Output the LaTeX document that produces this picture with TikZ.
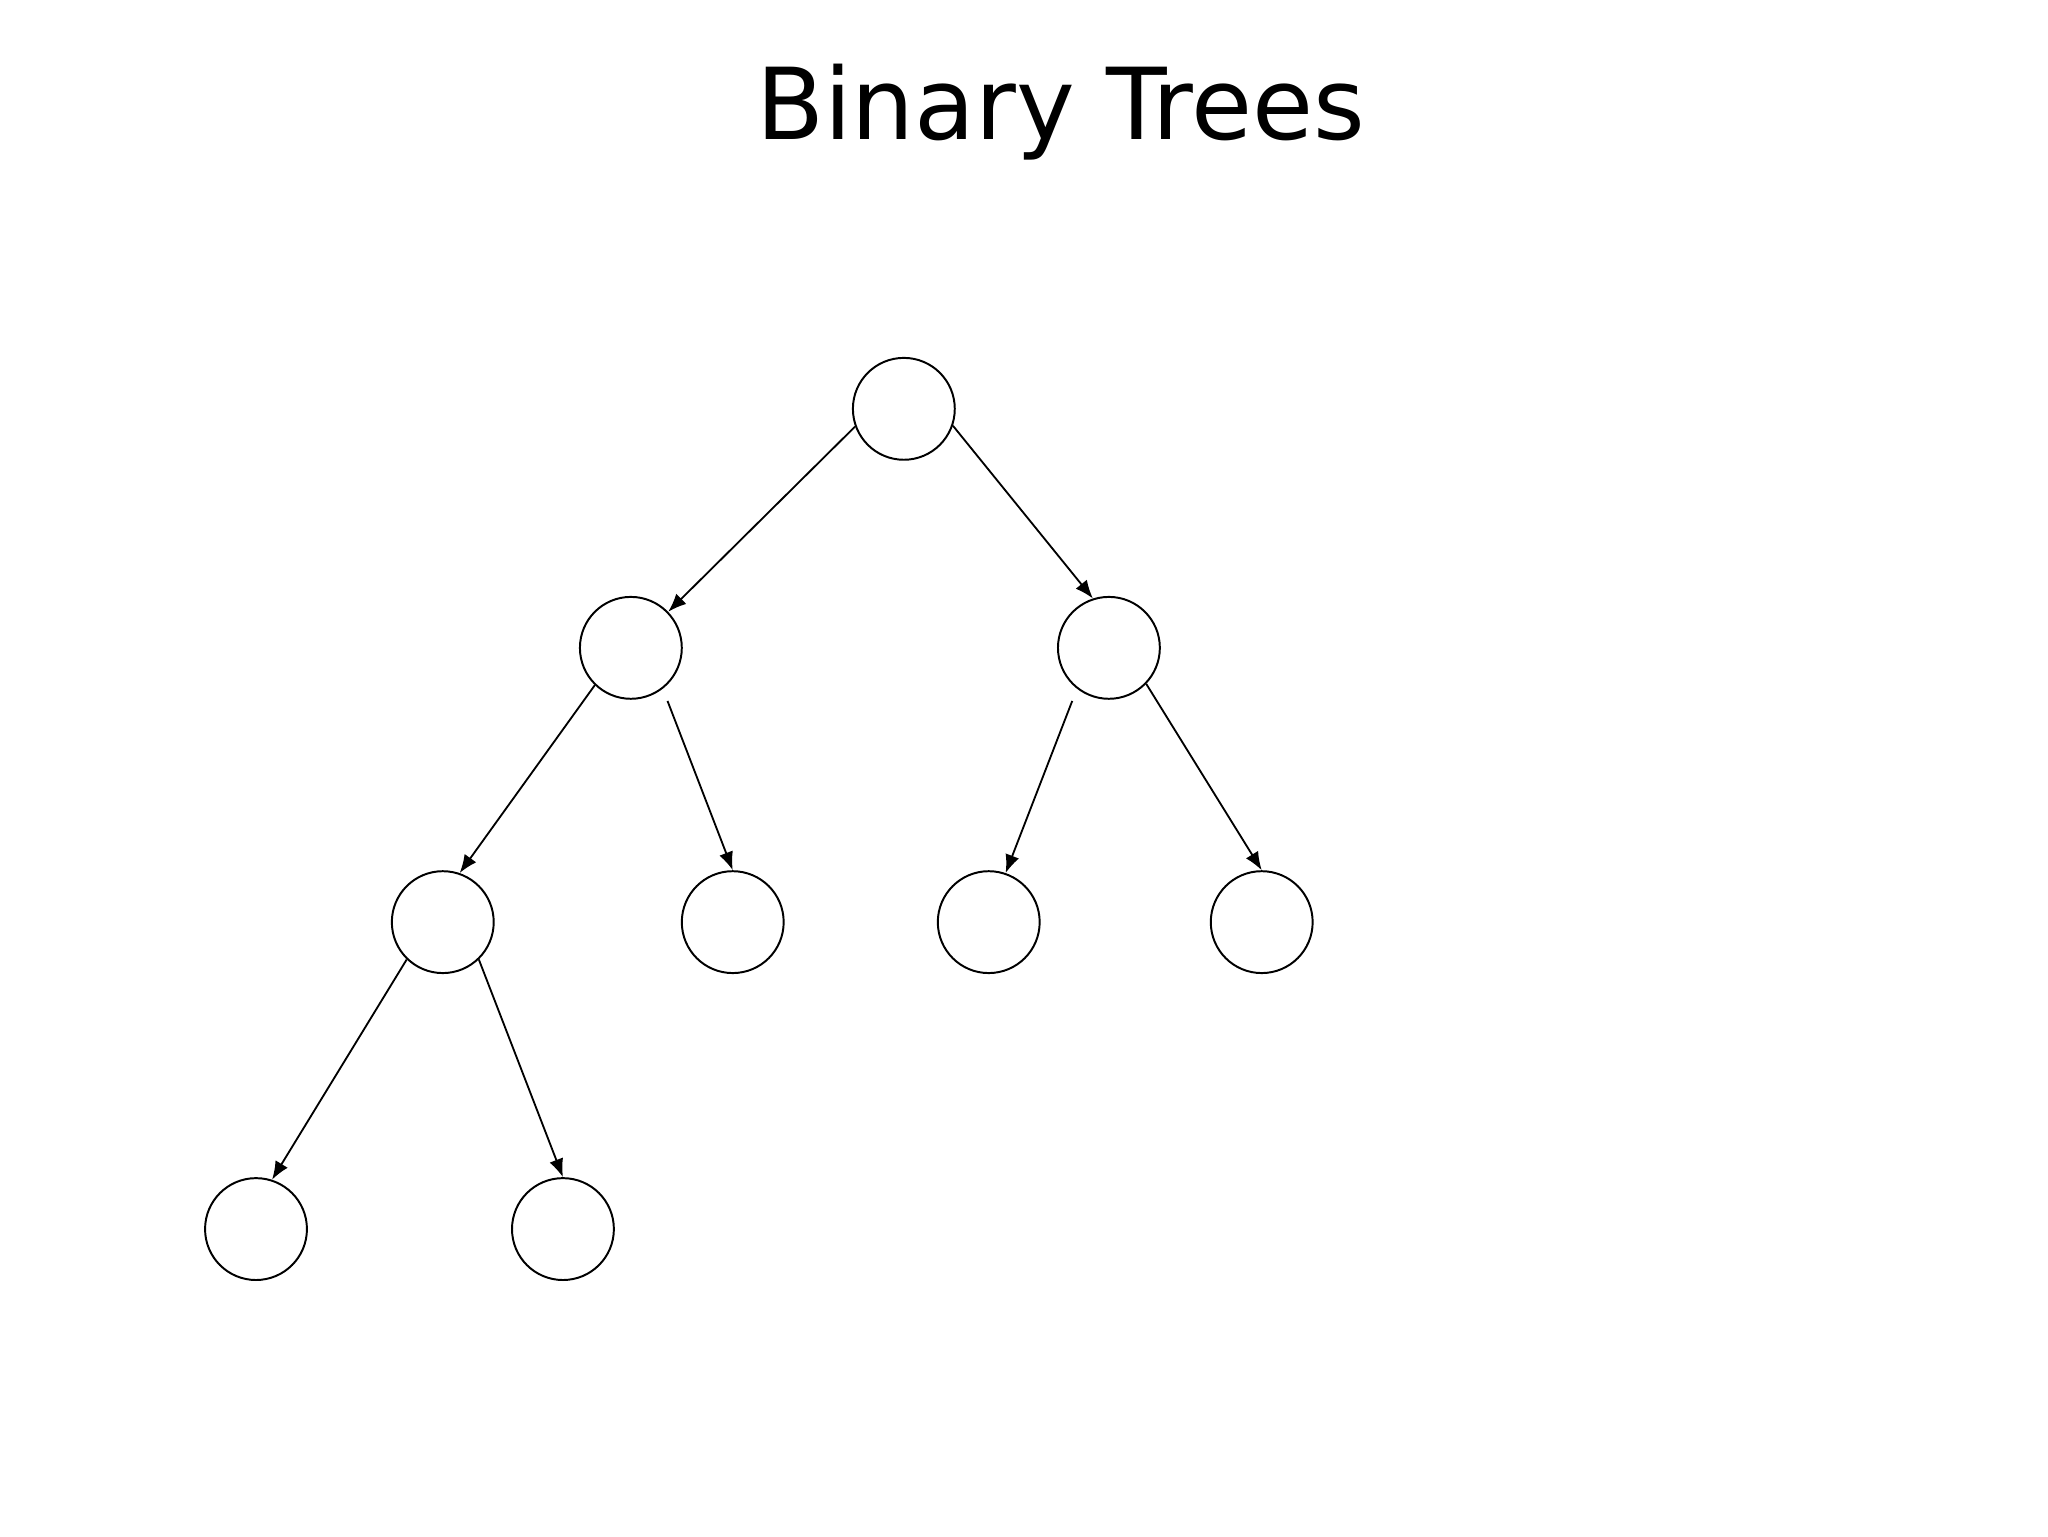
\documentclass[tikz,border=0pt]{standalone}
\usepackage{fontspec}
\newfontfamily\titlefont{DejaVu Sans}
\usetikzlibrary{arrows.meta}
\begin{document}
\begin{tikzpicture}[x=1pt,y=-1pt,
  tnode/.style={circle,draw,line width=1.5pt,minimum size=78pt,inner sep=0pt},
  edge/.style={line width=1.4pt,-{Latex[length=14pt,width=11pt]}}]
\useasboundingbox (0,0) rectangle (1568,1176);
\fill[white] (0,0) rectangle (1568,1176);
\node[anchor=base,inner sep=0pt] (title) at (812,107) {\titlefont\fontsize{76}{90}\selectfont Binary Trees};
\node[tnode] (root) at (692,313) {};
\node[tnode] (L) at (483,496) {};
\node[tnode] (R) at (849,496) {};
\node[tnode] (LL) at (339,706) {};
\node[tnode] (LR) at (561,706) {};
\node[tnode] (RL) at (757,706) {};
\node[tnode] (RR) at (966,706) {};
\node[tnode] (LLL) at (196,941) {};
\node[tnode] (LLR) at (431,941) {};
\draw[edge] (root.200) -- (L.44);
\draw[edge] (root.-19) -- (R.108);
\draw[edge] (L.-134) -- (LL.71);
\draw[edge,shorten <=10pt] (L.-52) -- (LR.90);
\draw[edge,shorten <=10pt] (R.-128) -- (RL.71);
\draw[edge] (R.-44) -- (RR.90);
\draw[edge] (LL.-134) -- (LLL.72);
\draw[edge] (LL.-46) -- (LLR.90);
\end{tikzpicture}
\end{document}
